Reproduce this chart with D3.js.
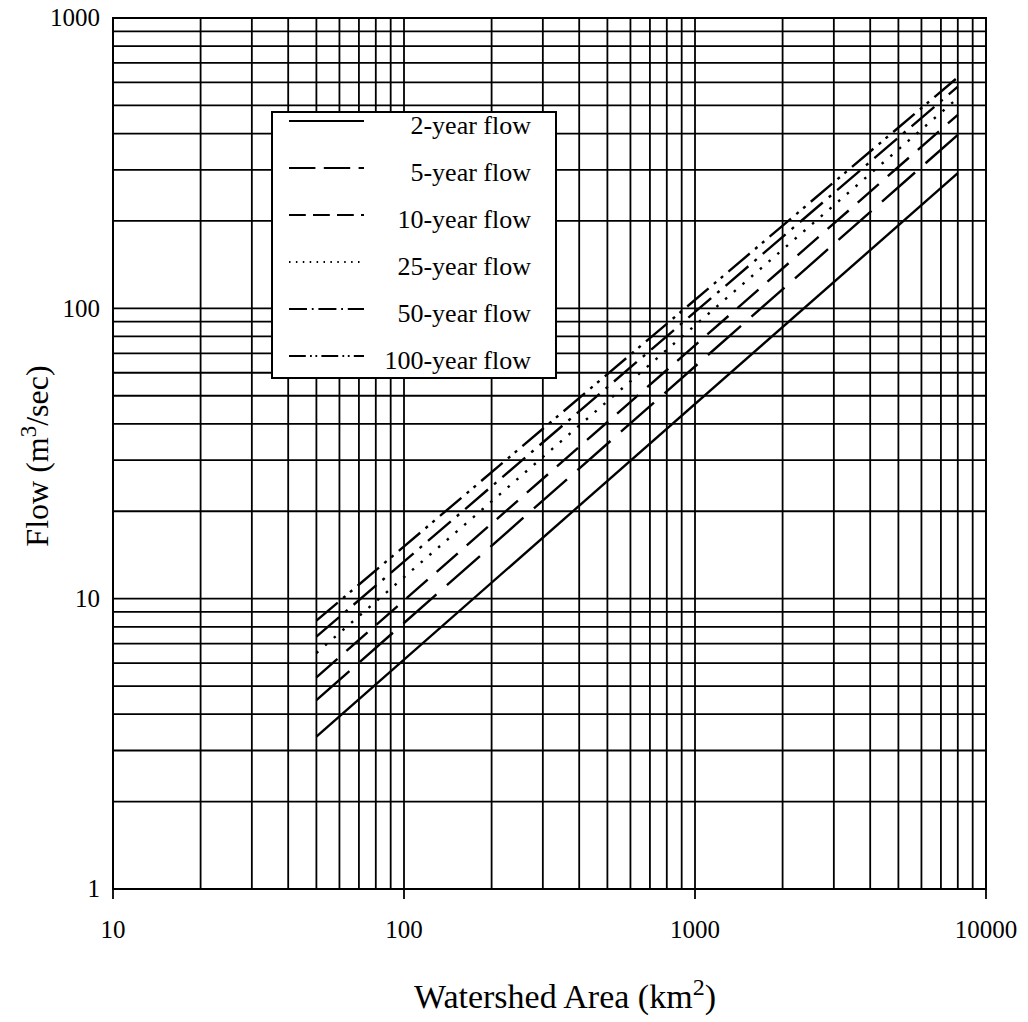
<!DOCTYPE html>
<html>
<head>
<meta charset="utf-8">
<script src="https://cdn.jsdelivr.net/npm/d3@7"></script>
<style>
  html, body { margin: 0; padding: 0; background: #fff; }
  svg { display: block; font-family: "Liberation Serif", "DejaVu Serif", serif; }
</style>
</head>
<body>
<div id="chart"></div>
<script>
// Watershed area endpoints (km2) for every flow line
const areaRange = [50, 8000];

// Return periods, legend text and flow at both ends (m3/sec)
const seriesNames = ['2-year flow', '5-year flow', '10-year flow', '25-year flow', '50-year flow', '100-year flow'];
const flowAtStart = [3.35, 4.47, 5.36, 6.5, 7.4, 8.4];
const flowAtEnd = [292, 396, 464, 530, 580, 625];

// Axis labels
const xTickValues = [10, 100, 1000, 10000];
const yTickValues = [1, 10, 100, 1000];

// Line styles for each return period
const dashStyles = ['none', '44,14', '28,12', '2.5,9', '30,8,3,8', '28,7,3,6,3,7'];

const config = {
  width: 1028,
  height: 1022,
  left: 113, right: 986, top: 18, bottom: 889
};

const svg = d3.select('#chart')
  .append('svg')
  .attr('width', config.width)
  .attr('height', config.height);

const x = d3.scaleLog().domain([10, 10000]).range([config.left, config.right]);
const y = d3.scaleLog().domain([1, 1000]).range([config.bottom, config.top]);

// Grid: every 1..9 within each decade
const xGrid = d3.range(1, 4).flatMap(p => d3.range(1, 10).map(m => m * Math.pow(10, p))).concat([10000]);
const yGrid = d3.range(0, 3).flatMap(p => d3.range(1, 10).map(m => m * Math.pow(10, p))).concat([1000]);

const grid = svg.append('g').attr('stroke', '#000').attr('stroke-width', 1.8);

grid.selectAll('line.vgrid')
  .data(xGrid)
  .join('line')
  .attr('class', 'vgrid')
  .attr('x1', d => x(d)).attr('x2', d => x(d))
  .attr('y1', config.top).attr('y2', config.bottom);

grid.selectAll('line.hgrid')
  .data(yGrid)
  .join('line')
  .attr('class', 'hgrid')
  .attr('x1', config.left).attr('x2', config.right)
  .attr('y1', d => y(d)).attr('y2', d => y(d));

// Major ticks hanging below the frame
grid.selectAll('line.xtick')
  .data(xTickValues)
  .join('line')
  .attr('class', 'xtick')
  .attr('x1', d => x(d)).attr('x2', d => x(d))
  .attr('y1', config.bottom).attr('y2', config.bottom + 10);

// Frame
svg.append('rect')
  .attr('x', config.left).attr('y', config.top)
  .attr('width', config.right - config.left)
  .attr('height', config.bottom - config.top)
  .attr('fill', 'none')
  .attr('stroke', '#000')
  .attr('stroke-width', 2);

// Tick labels
svg.selectAll('text.xlabel')
  .data(xTickValues)
  .join('text')
  .attr('class', 'xlabel')
  .attr('x', d => x(d))
  .attr('y', 938)
  .attr('text-anchor', 'middle')
  .attr('font-size', '25px')
  .text(d => d);

svg.selectAll('text.ylabel')
  .data(yTickValues)
  .join('text')
  .attr('class', 'ylabel')
  .attr('x', 100)
  .attr('y', d => y(d))
  .attr('dy', '0.33em')
  .attr('text-anchor', 'end')
  .attr('font-size', '25px')
  .text(d => d);

// Axis titles
const xTitle = svg.append('text')
  .attr('x', 565)
  .attr('y', 1008)
  .attr('text-anchor', 'middle')
  .attr('font-size', '34px');
xTitle.append('tspan').text('Watershed Area (km');
xTitle.append('tspan').attr('font-size', '24px').attr('dy', -13).text('2');
xTitle.append('tspan').attr('dy', 13).text(')');

const yTitle = svg.append('text')
  .attr('transform', 'translate(48, 456) rotate(-90)')
  .attr('text-anchor', 'middle')
  .attr('font-size', '32px');
yTitle.append('tspan').text('Flow (m');
yTitle.append('tspan').attr('font-size', '23px').attr('dy', -12).text('3');
yTitle.append('tspan').attr('dy', 12).text('/sec)');

// Flow lines
const series = seriesNames.map((name, i) => ({
  name,
  dash: dashStyles[i],
  points: [[areaRange[0], flowAtStart[i]], [areaRange[1], flowAtEnd[i]]]
}));

const line = d3.line().x(d => x(d[0])).y(d => y(d[1]));

svg.append('g')
  .selectAll('path.flow')
  .data(series)
  .join('path')
  .attr('class', 'flow')
  .attr('d', d => line(d.points))
  .attr('fill', 'none')
  .attr('stroke', '#000')
  .attr('stroke-width', 2.4)
  .attr('stroke-dasharray', d => d.dash);

// Legend
const legend = svg.append('g');
legend.append('rect')
  .attr('x', 272).attr('y', 112)
  .attr('width', 284).attr('height', 266)
  .attr('fill', '#fff')
  .attr('stroke', '#000')
  .attr('stroke-width', 2);

const rowY = i => 125 + i * 47;

legend.selectAll('line.sample')
  .data(series)
  .join('line')
  .attr('class', 'sample')
  .attr('x1', 289).attr('x2', 364)
  .attr('y1', (d, i) => rowY(i) - 4).attr('y2', (d, i) => rowY(i) - 4)
  .attr('stroke', '#000')
  .attr('stroke-width', 1.8)
  .attr('stroke-dasharray', d => d.dash === 'none' ? 'none' : d.dash.split(',').map(v => +v * 0.6).join(','));

legend.selectAll('text.entry')
  .data(series)
  .join('text')
  .attr('class', 'entry')
  .attr('x', 531)
  .attr('y', (d, i) => rowY(i))
  .attr('dy', '0.33em')
  .attr('text-anchor', 'end')
  .attr('font-size', '26px')
  .text(d => d.name);
</script>
</body>
</html>
